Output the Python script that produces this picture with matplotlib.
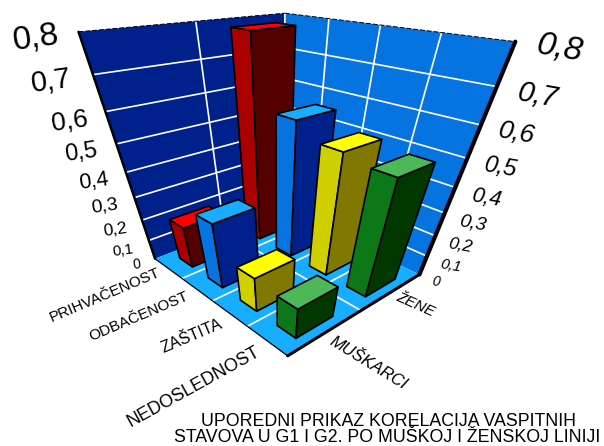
"""3D bars, walls and floor drawn with one projective camera fitted to the picture."""
import numpy as np
import matplotlib
matplotlib.use('Agg')
import matplotlib.pyplot as plt
from matplotlib.patches import Polygon

categories = ['PRIHVAČENOST', 'ODBAČENOST', 'ZAŠTITA', 'NEDOSLEDNOST']
series = ['MUŠKARCI', 'ŽENE']
values_muskarci = [0.20, 0.305, 0.17, 0.155]
values_zene = [0.785, 0.57, 0.52, 0.50]
z_ticks = [0, 0.1, 0.2, 0.3, 0.4, 0.5, 0.6, 0.7, 0.8]
z_labels = ['0', '0,1', '0,2', '0,3', '0,4', '0,5', '0,6', '0,7', '0,8']

# colours per category: top, left side, right side
bar_colors = [('#FF0000', '#AA0000', '#550000'),
              ('#18AEFF', '#0674E0', '#00208C'),
              ('#FFFF00', '#D0D000', '#807800'),
              ('#4CB858', '#0C7818', '#003800')]
LEFT_WALL = '#00208C'
RIGHT_WALL = '#0674E0'
FLOOR = '#18AEFF'

# camera calibration: (category, series, z) -> pixel, read from the box corners
calib = [
    (0, 0, 0, 155, 258), (4, 0, 0, 287, 359), (4, 2, 0, 420, 273), (0, 2, 0, 281, 212),
    (0, 0, .8, 77, 33), (0, 2, .8, 286, 11), (4, 2, .8, 515, 43),
    (1, 0, 0, 183, 276), (2, 0, 0, 213, 300), (3, 0, 0, 247, 327), (4, 1, 0, 361, 310),
    (0, 1, .8, 197, 22), (1, 2, .8, 330, 18), (2, 2, .8, 380, 25), (3, 2, .8, 440, 33.5),
    (0, 0, .4, 127, 172), (4, 2, .4, 456, 186), (0, 0, .6, 104, 112), (4, 2, .6, 481, 125),
]


def fit_camera(pts):
    rows = []
    for c, s, z, px, py in pts:
        X = [c, s, z * 5, 1]
        u, v = px / 600, py / 600
        rows.append(X + [0, 0, 0, 0] + [-u * a for a in X])
        rows.append([0, 0, 0, 0] + X + [-v * a for a in X])
    return np.linalg.svd(np.array(rows))[2][-1].reshape(3, 4)


CAM = fit_camera(calib)


def project(c, s, z):
    h = CAM @ np.array([c, s, z * 5, 1.0])
    return h[0] / h[2] * 600, h[1] / h[2] * 600


def quad(ax, corners, color, zorder=1, ec='none', lw=0):
    pts = [project(*p) for p in corners]
    ax.add_patch(Polygon(pts, closed=True, fc=color, ec=ec, lw=lw, zorder=zorder, joinstyle='round'))


def line3(ax, a, b, color='white', lw=1.2, zorder=2, **kw):
    p, q = project(*a), project(*b)
    ax.plot([p[0], q[0]], [p[1], q[1]], color=color, lw=lw, zorder=zorder, solid_capstyle='round', **kw)


fig = plt.figure(figsize=(6.04, 4.46), dpi=100)
ax = fig.add_axes([0, 0, 1, 1])
ax.set_xlim(0, 604)
ax.set_ylim(446, 0)
ax.axis('off')
plt.rcParams['font.family'] = ['Liberation Sans', 'DejaVu Sans']

n_cat, n_ser = len(categories), len(series)
top = z_ticks[-1]

# walls and floor
quad(ax, [(0, 0, 0), (0, n_ser, 0), (0, n_ser, top), (0, 0, top)], LEFT_WALL)
quad(ax, [(0, n_ser, 0), (n_cat, n_ser, 0), (n_cat, n_ser, top), (0, n_ser, top)], RIGHT_WALL)
quad(ax, [(0, 0, 0), (n_cat, 0, 0), (n_cat, n_ser, 0), (0, n_ser, 0)], FLOOR)

# grid
for z in z_ticks[1:-1]:
    line3(ax, (0, 0, z), (0, n_ser, z))
    line3(ax, (0, n_ser, z), (n_cat, n_ser, z))
for c in range(1, n_cat):
    line3(ax, (c, 0, 0), (c, n_ser, 0))
    line3(ax, (c, n_ser, 0), (c, n_ser, top))
line3(ax, (0, 1, 0), (n_cat, 1, 0))
line3(ax, (0, 1, 0), (0, 1, top))
line3(ax, (0, n_ser, 0), (0, n_ser, top))

# box edges
line3(ax, (0, 0, 0), (0, 0, top), color='black', lw=1.8, zorder=3)
line3(ax, (n_cat, n_ser, 0), (n_cat, n_ser, top), color='black', lw=3, zorder=3)
line3(ax, (n_cat, 0, 0), (n_cat, n_ser, 0), color='black', lw=2.2, zorder=3)
line3(ax, (0, 0, 0), (n_cat, 0, 0), color='black', lw=0.9, zorder=3)
line3(ax, (0, 0, top), (0, n_ser, top), color='black', lw=0.7, zorder=3, dashes=(5, 2))
line3(ax, (0, n_ser, top), (n_cat, n_ser, top), color='black', lw=0.7, zorder=3, dashes=(5, 2))

# bars, back row first so that the front row covers it
C_FROM, C_TO = 0.32, 0.78
S_FROM, S_TO = 0.22, 0.72
zo = 4
for s_idx, vals in [(1, values_zene), (0, values_muskarci)]:
    for c_idx, v in enumerate(vals):
        c0, c1 = c_idx + C_FROM, c_idx + C_TO
        s0, s1 = s_idx + S_FROM, s_idx + S_TO
        col_top, col_left, col_right = bar_colors[c_idx]
        quad(ax, [(c0, s0, 0), (c1, s0, 0), (c1, s0, v), (c0, s0, v)], col_left, zo, 'black', 1.2)
        quad(ax, [(c1, s0, 0), (c1, s1, 0), (c1, s1, v), (c1, s0, v)], col_right, zo, 'black', 1.2)
        quad(ax, [(c0, s0, v), (c1, s0, v), (c1, s1, v), (c0, s1, v)], col_top, zo, 'black', 1.2)
        zo += 1

# z tick labels on both walls, growing with the perspective
tick_sizes = [10, 11, 12.5, 14, 15.5, 17, 19, 21, 24]
left_off = [(-18, 6), (-26, 10), (-27, 10), (-30, 9), (-32, 9), (-35, 9), (-36, 9), (-42, 7), (-43, 6)]
right_off = [(16, 7), (24, 10), (25, 10), (28, 10), (31, 11), (34, 9), (36, 8), (41, 9), (44, 7)]
for z, lab, fs, lo, ro in zip(z_ticks, z_labels, tick_sizes, left_off, right_off):
    x, y = project(0, 0, z)
    ax.text(x + lo[0], y + lo[1], lab, fontsize=fs, rotation=8, ha='center', va='center', color='black')
    x, y = project(n_cat, n_ser, z)
    ax.text(x + ro[0], y + ro[1], lab, fontsize=fs, rotation=-10, ha='center', va='center', style='italic', color='black')

# category and series labels
cat_pos = [(105, 295), (139, 317), (192, 336), (194, 387)]
cat_size = [11, 11, 11.6, 13]
cat_rot = [23, 23, 23, 29]
for lab, pos, fs, rot in zip(categories, cat_pos, cat_size, cat_rot):
    ax.text(pos[0], pos[1], lab, fontsize=fs, rotation=rot, ha='center', va='center', rotation_mode='anchor')
ax.text(368, 363, series[0], fontsize=12, rotation=-31.5, ha='center', va='center', style='italic', rotation_mode='anchor')
ax.text(415, 305, series[1], fontsize=11, rotation=-24, ha='center', va='center', style='italic', rotation_mode='anchor')

ax.text(388.5, 421, 'UPOREDNI PRIKAZ KORELACIJA VASPITNIH', fontsize=12.8, ha='center', va='center')
ax.text(387.5, 438, 'STAVOVA U G1 I G2. PO MUŠKOJ I ŽENSKOJ LINIJI', fontsize=12.8, ha='center', va='center')

fig.savefig('out.png', dpi=100)
